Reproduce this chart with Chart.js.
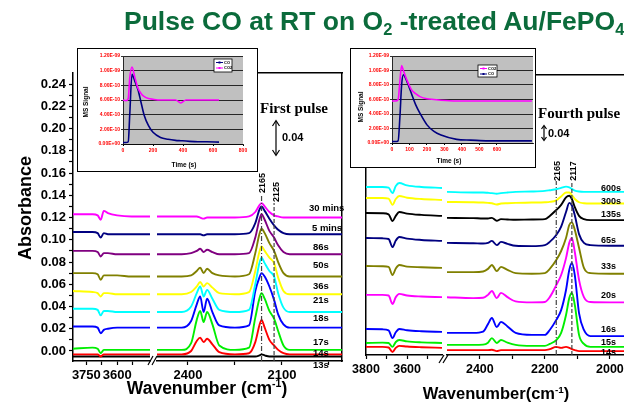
<!DOCTYPE html>
<html>
<head>
<meta charset="utf-8">
<script src="https://cdn.jsdelivr.net/npm/chart.js@4.4.1/dist/chart.umd.min.js"></script>
<style>
  body { margin: 0; width: 624px; height: 404px; overflow: hidden; background: #fff; position: relative;
    font-family: 'Liberation Sans', Arial, sans-serif; }
  canvas.full { position: absolute; left: 0; top: 0; }
  .c { position: absolute; transform: translate(-50%, -50%); white-space: nowrap; font-weight: bold; color: #000; }
  .l { position: absolute; transform: translateY(-50%); white-space: nowrap; font-weight: bold; color: #000; }
  .rot { transform: translate(-50%, -50%) rotate(-90deg); }
  .title { position: absolute; left: 124px; top: 8px; font: bold 26.5px/26.5px 'Liberation Sans', Arial, sans-serif;
    color: #0b6b3b; white-space: nowrap; }
  .title sub { font-size: 0.62em; vertical-align: -0.3em; line-height: 0; }
  sup { font-size: 0.6em; vertical-align: 0.6em; line-height: 0; }
  .serif { font-family: 'Liberation Serif', 'Times New Roman', serif; }
  .inset { position: absolute; background: #fff; border: 1px solid #000; box-sizing: border-box; }
  .inset canvas { position: absolute; left: 0; top: 0; }
  .spec { font-size: 9.5px; }
  .spec2 { font-size: 9px; }
</style>
</head>
<body>
<canvas id="firstOH" class="full" width="624" height="404"></canvas>
<canvas id="firstCO" class="full" width="624" height="404"></canvas>
<canvas id="fourthOH" class="full" width="624" height="404"></canvas>
<canvas id="fourthCO" class="full" width="680" height="404"></canvas>

<svg width="624" height="404" style="position:absolute;left:0;top:0" stroke="#000" fill="none" stroke-width="1.2">
  <line x1="148" y1="365" x2="153" y2="356"/>
  <line x1="152" y1="365" x2="157" y2="356"/>
  <line x1="439" y1="363" x2="444" y2="355"/>
  <line x1="443" y1="363" x2="448" y2="355"/>
  <line x1="276" y1="121" x2="276" y2="155"/>
  <polyline points="272.5,126 276,120.5 279.5,126"/>
  <polyline points="272.5,150 276,155.5 279.5,150"/>
  <line x1="544" y1="126" x2="544" y2="140"/>
  <polyline points="541.5,129 544,125.5 546.5,129"/>
  <polyline points="541.5,137 544,140.5 546.5,137"/>
</svg>

<div class="title">Pulse CO at RT on O<sub>2</sub> -treated Au/FePO<sub>4</sub></div>
<div class="c rot" style="left:25px;top:208px;font-size:18px">Absorbance</div>
<div class="c" style="left:207px;top:388px;font-size:17.5px">Wavenumber (cm<sup>-1</sup>)</div>
<div class="c" style="left:496px;top:393px;font-size:16.5px">Wavenumber(cm<sup>-1</sup>)</div>

<div class="l serif" style="left:260px;top:108px;font-size:15px">First pulse</div>
<div class="l" style="left:282px;top:137px;font-size:11px">0.04</div>
<div class="l serif" style="left:538px;top:113px;font-size:15px">Fourth pulse</div>
<div class="l" style="left:548px;top:133px;font-size:11px">0.04</div>

<div class="c rot" style="left:262px;top:183px;font-size:9px">2165</div>
<div class="c rot" style="left:276px;top:192px;font-size:9px">2125</div>
<div class="c rot" style="left:557px;top:171px;font-size:9px">2165</div>
<div class="c rot" style="left:573px;top:171px;font-size:9px">2117</div>

<div id="firstTags"></div>
<div id="fourthTags"></div>

<div class="inset" style="left:77px;top:48px;width:181px;height:124px">
  <canvas id="insetFirst" width="179" height="122"></canvas>
</div>
<div class="inset" style="left:350px;top:48px;width:186px;height:120px">
  <canvas id="insetFourth" width="184" height="118"></canvas>
</div>
<div class="c rot" style="left:85px;top:102px;font-size:6.5px">MS Signal</div>
<div class="c" style="left:184px;top:164px;font-size:6.5px">Time (s)</div>
<div class="c rot" style="left:360px;top:107px;font-size:6.5px">MS Signal</div>
<div class="c" style="left:449px;top:160px;font-size:6.5px">Time (s)</div>

<script>
// ---- first pulse (left panel), absorbance ----
const firstLabels = ['30 mins', '5 mins', '86s', '50s', '36s', '21s', '18s', '17s', '14s', '13s'];
const firstColors = ['#ff00ff', '#000080', '#800080', '#808000', '#ffff00', '#00ffff', '#0000ff', '#00ee00', '#ff0000', '#000000'];
const firstTagY = [207, 227, 246, 264, 285, 299, 317, 341, 352, 364];
const firstTagX = [309, 312, 313, 313, 313, 313, 313, 313, 313, 313];

const firstOhWn = [3815, 3720, 3695, 3680, 3665, 3645, 3600, 3530, 3440];
const firstCoWn = [2505, 2420, 2390, 2372, 2361, 2350, 2339, 2322, 2300, 2250, 2205,
  2185, 2172, 2165, 2155, 2140, 2125, 2112, 2095, 2075, 2040, 1905];

const first30minOH = [0.123, 0.123, 0.122, 0.118, 0.126, 0.124, 0.122, 0.121, 0.121];
const first30minCO = [0.121, 0.121, 0.121, 0.121, 0.120, 0.119, 0.120, 0.120, 0.120, 0.120, 0.121,
  0.125, 0.131, 0.133, 0.130, 0.125, 0.122, 0.121, 0.120, 0.120, 0.120, 0.120];
const first5minOH = [0.107, 0.107, 0.106, 0.102, 0.106, 0.105, 0.105, 0.105, 0.105];
const first5minCO = [0.105, 0.105, 0.105, 0.105, 0.105, 0.104, 0.105, 0.105, 0.105, 0.105, 0.106,
  0.115, 0.127, 0.130, 0.126, 0.119, 0.113, 0.109, 0.106, 0.105, 0.105, 0.105];
const first86sOH = [0.090, 0.090, 0.089, 0.085, 0.088, 0.088, 0.087, 0.087, 0.087];
const first86sCO = [0.087, 0.087, 0.088, 0.090, 0.092, 0.089, 0.091, 0.089, 0.087, 0.087, 0.088,
  0.102, 0.118, 0.123, 0.118, 0.108, 0.102, 0.095, 0.089, 0.087, 0.087, 0.087];
const first50sOH = [0.070, 0.070, 0.069, 0.064, 0.068, 0.068, 0.068, 0.067, 0.067];
const first50sCO = [0.067, 0.067, 0.068, 0.072, 0.075, 0.070, 0.074, 0.070, 0.068, 0.067, 0.069,
  0.088, 0.105, 0.110, 0.106, 0.097, 0.090, 0.080, 0.070, 0.067, 0.067, 0.067];
const first36sOH = [0.054, 0.053, 0.052, 0.049, 0.052, 0.052, 0.051, 0.051, 0.051];
const first36sCO = [0.051, 0.051, 0.053, 0.058, 0.062, 0.058, 0.061, 0.057, 0.052, 0.051, 0.053,
  0.072, 0.089, 0.094, 0.090, 0.084, 0.079, 0.066, 0.054, 0.051, 0.051, 0.051];
const first21sOH = [0.038, 0.038, 0.037, 0.032, 0.036, 0.036, 0.035, 0.035, 0.035];
const first21sCO = [0.035, 0.035, 0.040, 0.052, 0.058, 0.049, 0.055, 0.047, 0.037, 0.035, 0.037,
  0.060, 0.079, 0.084, 0.079, 0.072, 0.067, 0.052, 0.039, 0.035, 0.035, 0.035];
const first18sOH = [0.022, 0.022, 0.021, 0.016, 0.019, 0.020, 0.021, 0.021, 0.021];
const first18sCO = [0.021, 0.021, 0.027, 0.042, 0.049, 0.035, 0.047, 0.035, 0.023, 0.021, 0.023,
  0.054, 0.066, 0.070, 0.067, 0.058, 0.046, 0.033, 0.024, 0.021, 0.021, 0.021];
const first17sOH = [0.002, 0.003, 0.002, -0.002, 0.001, 0.001, 0.001, 0.001, 0.001];
const first17sCO = [0.001, 0.001, 0.007, 0.028, 0.036, 0.026, 0.035, 0.024, 0.005, 0.001, 0.003,
  0.030, 0.047, 0.052, 0.047, 0.036, 0.029, 0.018, 0.005, 0.001, 0.001, 0.001];
const first14sOH = [-0.003, -0.003, -0.003, -0.005, -0.003, -0.003, -0.003, -0.003, -0.003];
const first14sCO = [-0.003, -0.003, 0.000, 0.009, 0.012, 0.008, 0.011, 0.006, -0.001, -0.003, -0.002,
  0.008, 0.023, 0.028, 0.021, 0.010, 0.005, 0.001, -0.002, -0.003, -0.003, -0.003];
const first13sOH = [-0.005, -0.005, -0.005, -0.005, -0.005, -0.005, -0.005, -0.005, -0.005];
const first13sCO = [-0.005, -0.005, -0.005, -0.005, -0.005, -0.005, -0.005, -0.005, -0.005, -0.005, -0.005,
  -0.005, -0.004, -0.003, -0.004, -0.005, -0.005, -0.005, -0.005, -0.005, -0.005, -0.005];

// ---- fourth pulse (right panel), no y scale shown: 0.04 bar = 13 px ----
const fourthLabels = ['600s', '300s', '135s', '65s', '33s', '20s', '16s', '15s', '14s'];
const fourthColors = ['#00ffff', '#ffff00', '#000000', '#000080', '#808000', '#ff00ff', '#0000ff', '#00ee00', '#ff0000'];
const fourthTagY = [188, 201, 214, 240, 266, 295, 329, 342, 352];

const fourthOhWn = [3800, 3720, 3690, 3671, 3655, 3638, 3600, 3530, 3430];
const fourthCoWn = [2505, 2420, 2390, 2375, 2363, 2348, 2335, 2315, 2290, 2240,
  2200, 2185, 2165, 2150, 2135, 2125, 2117, 2108, 2095, 2080, 2060, 2000, 1840];

const fourth600sOH = [0.517, 0.517, 0.515, 0.498, 0.520, 0.529, 0.522, 0.517, 0.514];
const fourth600sCO = [0.502, 0.500, 0.500, 0.499, 0.498, 0.496, 0.498, 0.500, 0.502, 0.503,
  0.505, 0.507, 0.510, 0.514, 0.518, 0.516, 0.511, 0.506, 0.503, 0.502, 0.502, 0.502, 0.502];
const fourth300sOH = [0.483, 0.483, 0.481, 0.462, 0.480, 0.489, 0.484, 0.480, 0.477];
const fourth300sCO = [0.471, 0.470, 0.469, 0.468, 0.467, 0.463, 0.466, 0.467, 0.468, 0.469,
  0.470, 0.471, 0.476, 0.488, 0.500, 0.500, 0.492, 0.480, 0.470, 0.467, 0.466, 0.466, 0.466];
const fourth135sOH = [0.437, 0.436, 0.433, 0.412, 0.428, 0.440, 0.435, 0.431, 0.428];
const fourth135sCO = [0.422, 0.421, 0.420, 0.420, 0.422, 0.413, 0.418, 0.417, 0.416, 0.417,
  0.418, 0.428, 0.446, 0.462, 0.485, 0.490, 0.480, 0.455, 0.428, 0.418, 0.415, 0.415, 0.415];
const fourth65sOH = [0.360, 0.359, 0.357, 0.332, 0.352, 0.363, 0.358, 0.354, 0.351];
const fourth65sCO = [0.345, 0.344, 0.343, 0.345, 0.351, 0.338, 0.348, 0.342, 0.336, 0.335,
  0.338, 0.348, 0.369, 0.395, 0.440, 0.468, 0.460, 0.430, 0.372, 0.345, 0.338, 0.336, 0.336];
const fourth33sOH = [0.274, 0.273, 0.271, 0.246, 0.266, 0.277, 0.272, 0.270, 0.268];
const fourth33sCO = [0.255, 0.255, 0.257, 0.265, 0.277, 0.258, 0.271, 0.262, 0.252, 0.250,
  0.252, 0.265, 0.292, 0.320, 0.360, 0.400, 0.408, 0.385, 0.330, 0.268, 0.252, 0.250, 0.250];
const fourth20sOH = [0.185, 0.185, 0.183, 0.157, 0.178, 0.188, 0.183, 0.180, 0.178];
const fourth20sCO = [0.178, 0.175, 0.176, 0.185, 0.197, 0.175, 0.191, 0.178, 0.165, 0.162,
  0.163, 0.178, 0.215, 0.246, 0.298, 0.345, 0.360, 0.317, 0.231, 0.178, 0.163, 0.162, 0.162];
const fourth16sOH = [0.080, 0.079, 0.076, 0.052, 0.070, 0.080, 0.076, 0.073, 0.071];
const fourth16sCO = [0.068, 0.068, 0.072, 0.095, 0.114, 0.086, 0.102, 0.088, 0.068, 0.062,
  0.062, 0.077, 0.108, 0.138, 0.200, 0.262, 0.283, 0.246, 0.129, 0.077, 0.058, 0.058, 0.058];
const fourth15sOH = [0.037, 0.038, 0.037, 0.025, 0.040, 0.046, 0.042, 0.039, 0.037];
const fourth15sCO = [0.031, 0.031, 0.032, 0.038, 0.052, 0.037, 0.046, 0.038, 0.031, 0.028,
  0.028, 0.034, 0.046, 0.068, 0.123, 0.175, 0.191, 0.154, 0.062, 0.034, 0.025, 0.025, 0.025];
const fourth14sOH = [0.025, 0.025, 0.023, 0.009, 0.022, 0.028, 0.026, 0.024, 0.022];
const fourth14sCO = [0.015, 0.015, 0.015, 0.015, 0.016, 0.012, 0.015, 0.015, 0.015, 0.015,
  0.015, 0.018, 0.025, 0.022, 0.025, 0.022, 0.018, 0.015, 0.012, 0.012, 0.012, 0.012, 0.012];

// ---- MS signal insets (units of 1e-9) ----
const insetFirstTime = [0, 20, 35, 45, 60, 80, 100, 120, 140, 170, 200, 250, 300, 350, 385, 420, 500, 560, 640];
const insetFirstCO = [0.02, 0.02, 0.03, 0.40, 0.95, 0.85, 0.74, 0.57, 0.40, 0.25, 0.16, 0.09, 0.065, 0.05, 0.045, 0.04, 0.03, 0.03, 0.025];
const insetFirstCO2 = [0.60, 0.59, 0.62, 0.90, 1.05, 0.90, 0.76, 0.69, 0.65, 0.62, 0.61, 0.60, 0.60, 0.60, 0.56, 0.60, 0.60, 0.60, 0.60];
const insetFourthTime = [0, 20, 35, 45, 55, 65, 85, 110, 135, 160, 200, 240, 280, 370, 450, 550, 650, 720, 800];
const insetFourthCO2 = [0.58, 0.58, 0.60, 0.85, 1.07, 1.00, 0.87, 0.74, 0.68, 0.64, 0.61, 0.60, 0.59, 0.58, 0.58, 0.58, 0.58, 0.58, 0.58];
const insetFourthCO = [0.02, 0.02, 0.03, 0.35, 0.80, 0.94, 0.85, 0.69, 0.53, 0.41, 0.25, 0.16, 0.11, 0.05, 0.04, 0.03, 0.03, 0.03, 0.03];

const firstOH = [first30minOH, first5minOH, first86sOH, first50sOH, first36sOH, first21sOH, first18sOH, first17sOH, first14sOH, first13sOH];
const firstCO = [first30minCO, first5minCO, first86sCO, first50sCO, first36sCO, first21sCO, first18sCO, first17sCO, first14sCO, first13sCO];
const fourthOH = [fourth600sOH, fourth300sOH, fourth135sOH, fourth65sOH, fourth33sOH, fourth20sOH, fourth16sOH, fourth15sOH, fourth14sOH];
const fourthCO = [fourth600sCO, fourth300sCO, fourth135sCO, fourth65sCO, fourth33sCO, fourth20sCO, fourth16sCO, fourth15sCO, fourth14sCO];

const FONT = "'Liberation Sans', Arial, sans-serif";
Chart.defaults.font.family = FONT;

function lineSet(xs, ys, color, width) {
  return {
    data: xs.map((x, i) => ({ x, y: ys[i] })),
    borderColor: color,
    borderWidth: width || 1.9,
    pointRadius: 0,
    cubicInterpolationMode: 'monotone',
    fill: false,
  };
}

function markerLine(wn, y0, y1, dash) {
  return {
    data: [{ x: wn, y: y0 }, { x: wn, y: y1 }],
    borderColor: '#444',
    borderWidth: 1.2,
    borderDash: dash,
    pointRadius: 0,
  };
}

function fixedSize(size) {
  return (scale) => {
    if (scale.isHorizontal()) scale.height = size;
    else scale.width = size;
  };
}

function ticksAt(values) {
  return (scale) => {
    scale.ticks = values.map((value) => ({ value }));
  };
}

function wnAxis(min, max, tickValues, labelValues, size) {
  return {
    type: 'linear',
    reverse: true,
    min,
    max,
    position: 'bottom',
    afterBuildTicks: ticksAt(tickValues),
    afterFit: fixedSize(30),
    ticks: {
      autoSkip: false,
      maxRotation: 0,
      padding: 3,
      color: '#000',
      font: { size, weight: 'bold' },
      callback: (v) => (labelValues.includes(v) ? String(v) : ''),
    },
    grid: { drawOnChartArea: false, tickLength: 4, color: '#000', tickWidth: 1.2 },
    border: { color: '#000', width: 1.5 },
  };
}

function frameAxis(position, min, max) {
  return {
    type: 'linear',
    display: true,
    position,
    min,
    max,
    afterFit: fixedSize(0),
    ticks: { display: false },
    grid: { display: false },
    border: { color: '#000', width: 1.5 },
  };
}

function hiddenY(min, max) {
  return { type: 'linear', display: false, min, max };
}

function baseOptions(padding, scales) {
  return {
    responsive: false,
    animation: false,
    devicePixelRatio: 1,
    layout: { padding, autoPadding: false },
    plugins: { legend: { display: false }, tooltip: { enabled: false } },
    scales,
  };
}

const absTicks = Array.from({ length: 25 }, (_, i) => i / 100);

// first pulse, O-H region
new Chart(document.getElementById('firstOH'), {
  type: 'line',
  data: { datasets: firstOH.map((ys, i) => lineSet(firstOhWn, ys, firstColors[i])) },
  options: baseOptions({ left: 31, top: 73, right: 474, bottom: 13 }, {
    x: wnAxis(3440, 3815, [3750, 3675, 3600, 3525], [3750, 3600], 13),
    y: {
      type: 'linear',
      min: -0.009,
      max: 0.25,
      position: 'left',
      afterBuildTicks: ticksAt(absTicks),
      afterFit: fixedSize(42),
      ticks: {
        autoSkip: false,
        padding: 3,
        color: '#000',
        font: { size: 13, weight: 'bold' },
        callback: (v) => (Math.round(v * 100) % 2 === 0 ? v.toFixed(2) : ''),
      },
      grid: { drawOnChartArea: false, tickLength: 4, color: '#000', tickWidth: 1.2 },
      border: { color: '#000', width: 1.5 },
    },
  }),
});

// first pulse, CO / CO2 region
new Chart(document.getElementById('firstCO'), {
  type: 'line',
  data: {
    datasets: [
      markerLine(2165, -0.009, 0.140, [5, 2, 1, 2]),
      markerLine(2125, -0.009, 0.133, [4, 2]),
      ...firstCO.map((ys, i) => lineSet(firstCoWn, ys, firstColors[i])),
    ],
  },
  options: baseOptions({ left: 157, top: 73, right: 282, bottom: 13 }, {
    x: wnAxis(1908, 2499, [2400, 2250, 2100, 1950], [2400, 2100], 13),
    y: hiddenY(-0.009, 0.25),
    xt: frameAxis('top', 0, 1),
    yr: frameAxis('right', 0, 1),
  }),
});

// fourth pulse, O-H region
new Chart(document.getElementById('fourthOH'), {
  type: 'line',
  data: { datasets: fourthOH.map((ys, i) => lineSet(fourthOhWn, ys, fourthColors[i])) },
  options: baseOptions({ left: 366, top: 75, right: 182, bottom: 19 }, {
    x: wnAxis(3430, 3800, [3800, 3700, 3600, 3500], [3800, 3600], 12.5),
    y: frameAxis('left', 0, 0.8615),
  }),
});

// fourth pulse, CO / CO2 region (runs past the right edge of the page)
new Chart(document.getElementById('fourthCO'), {
  type: 'line',
  data: {
    datasets: [
      markerLine(2165, 0, 0.535, [5, 2, 1, 2]),
      markerLine(2117, 0, 0.535, [4, 2]),
      ...fourthCO.map((ys, i) => lineSet(fourthCoWn, ys, fourthColors[i])),
    ],
  },
  options: baseOptions({ left: 447, top: 75, right: 20, bottom: 19 }, {
    x: wnAxis(1846, 2501, [2400, 2300, 2200, 2100, 2000, 1900], [2400, 2200, 2000], 12.5),
    y: hiddenY(0, 0.8615),
    xt: frameAxis('top', 0, 1),
  }),
});

// curve labels
function addTags(holderId, labels, xs, ys, cls) {
  const holder = document.getElementById(holderId);
  labels.forEach((label, i) => {
    const el = document.createElement('div');
    el.className = 'l ' + cls;
    el.style.left = (Array.isArray(xs) ? xs[i] : xs) + 'px';
    el.style.top = ys[i] + 'px';
    el.textContent = label;
    holder.appendChild(el);
  });
}
addTags('firstTags', firstLabels, firstTagX, firstTagY, 'spec');
addTags('fourthTags', fourthLabels, 601, fourthTagY, 'spec2');

// ---- insets ----
const plotBg = {
  id: 'plotBg',
  beforeDraw(chart) {
    const { ctx, chartArea: a } = chart;
    ctx.save();
    ctx.fillStyle = '#c0c0c0';
    ctx.fillRect(a.left, a.top, a.right - a.left, a.bottom - a.top);
    ctx.restore();
  },
};

function msLegend(box, entries) {
  return {
    id: 'msLegend',
    afterDraw(chart) {
      const ctx = chart.ctx;
      ctx.save();
      ctx.fillStyle = '#fff';
      ctx.fillRect(box.x, box.y, box.w, box.h);
      ctx.strokeStyle = '#000';
      ctx.lineWidth = 0.8;
      ctx.strokeRect(box.x, box.y, box.w, box.h);
      entries.forEach((e, i) => {
        const y = box.y + 3.5 + i * 5.5;
        ctx.strokeStyle = e.color;
        ctx.lineWidth = 1;
        ctx.beginPath();
        ctx.moveTo(box.x + 2, y);
        ctx.lineTo(box.x + 9, y);
        ctx.stroke();
        ctx.fillStyle = e.color;
        ctx.fillRect(box.x + 4.5, y - 1, 2, 2);
        ctx.fillStyle = '#000';
        ctx.font = 'bold 4px ' + FONT;
        ctx.textBaseline = 'middle';
        ctx.fillText(e.label, box.x + 10, y);
      });
      ctx.restore();
    },
  };
}

function msLabel(v) {
  if (v === 0) return '0.00E+00';
  const exp = Math.floor(Math.log10(v * 1e-9) + 1e-9);
  const mant = (v * 1e-9) / Math.pow(10, exp);
  return mant.toFixed(2) + 'E-' + String(-exp).padStart(2, '0');
}

const msTicks = [0, 2, 4, 6, 8, 10, 12].map((v) => v / 10);

function insetOptions(padding, xMax, xTicks) {
  return baseOptions(padding, {
    x: {
      type: 'linear',
      min: 0,
      max: xMax,
      afterBuildTicks: ticksAt(xTicks),
      afterFit: fixedSize(12),
      ticks: { autoSkip: false, maxRotation: 0, padding: 2, color: '#ff0000', font: { size: 5, weight: 'bold' } },
      grid: { drawOnChartArea: false, tickLength: 2, color: '#000' },
      border: { color: '#000', width: 0.8 },
    },
    y: {
      type: 'linear',
      min: 0,
      max: 1.2,
      afterBuildTicks: ticksAt(msTicks),
      afterFit: fixedSize(26),
      ticks: { autoSkip: false, padding: 1, color: '#ff0000', font: { size: 5, weight: 'bold' }, callback: msLabel },
      grid: { color: '#000', lineWidth: 0.8, tickLength: 2 },
      border: { color: '#000', width: 0.8 },
    },
  });
}

new Chart(document.getElementById('insetFirst'), {
  type: 'line',
  data: {
    datasets: [
      lineSet(insetFirstTime, insetFirstCO2, '#ff00ff', 1.6),
      lineSet(insetFirstTime, insetFirstCO, '#000080', 1.6),
    ],
  },
  options: insetOptions({ left: 19, top: 7, right: 14, bottom: 15 }, 800, [0, 200, 400, 600, 800]),
  plugins: [plotBg, msLegend({ x: 136, y: 10, w: 18, h: 13 }, [
    { label: 'CO', color: '#000080' },
    { label: 'CO2', color: '#ff00ff' },
  ])],
});

new Chart(document.getElementById('insetFourth'), {
  type: 'line',
  data: {
    datasets: [
      lineSet(insetFourthTime, insetFourthCO2, '#ff00ff', 1.6),
      lineSet(insetFourthTime, insetFourthCO, '#000080', 1.6),
    ],
  },
  options: insetOptions({ left: 15, top: 7, right: 2, bottom: 12 }, 806, [0, 100, 200, 300, 400, 500, 600]),
  plugins: [plotBg, msLegend({ x: 127, y: 16, w: 19, h: 12 }, [
    { label: 'CO2', color: '#ff00ff' },
    { label: 'CO', color: '#000080' },
  ])],
});
</script>
</body>
</html>
